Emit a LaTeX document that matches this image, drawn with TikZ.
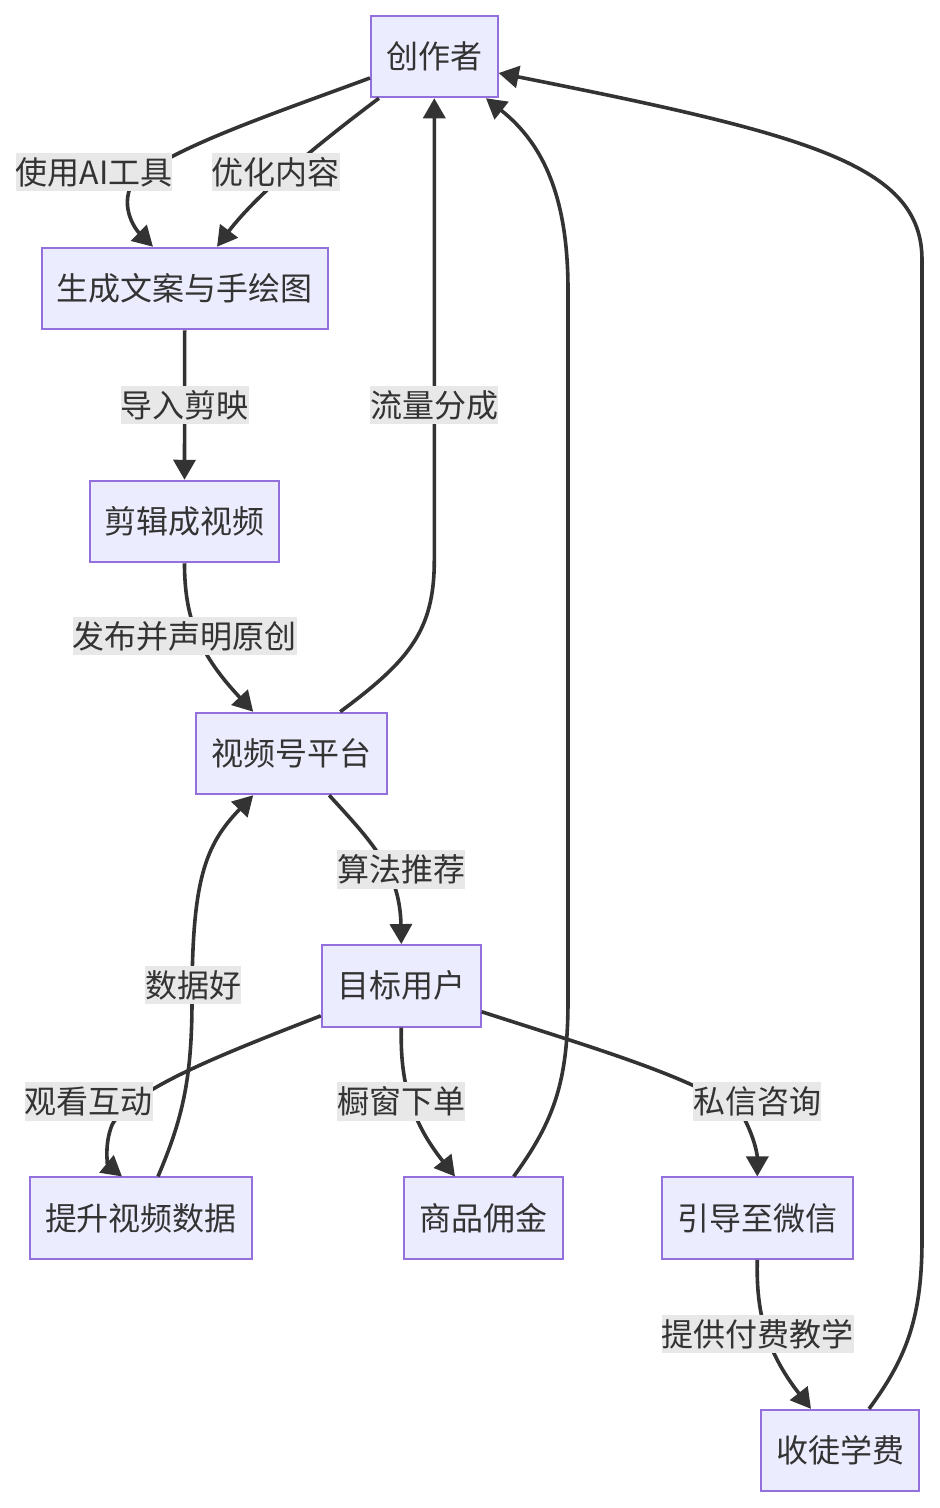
\documentclass[tikz,border=0pt]{standalone}
\usepackage{fontspec}
\setmainfont{Noto Sans CJK SC}
\usetikzlibrary{arrows.meta,calc}
\definecolor{nodefill}{HTML}{ECECFF}
\definecolor{nodeline}{HTML}{9370DB}
\definecolor{edgecol}{HTML}{333333}
\definecolor{lblbg}{HTML}{E8E8E8}
\begin{document}
\begin{tikzpicture}[x=1pt,y=-1pt,
  box/.style={draw=nodeline, line width=2pt, fill=nodefill, text=edgecol,
    font=\fontsize{32pt}{38pt}\selectfont, inner sep=0pt, minimum height=81.5pt,
    text height=26.2pt, text depth=1.9pt},
  lbl/.style={fill=lblbg, text=edgecol, font=\fontsize{32pt}{38pt}\selectfont,
    inner xsep=0pt, inner ysep=5pt, text height=26.2pt, text depth=1.9pt},
  edge/.style={draw=edgecol, line width=3.6pt, -{Triangle[length=20pt,width=22pt]}}]
\fill[white] (0,0) rectangle (940,1508);
\useasboundingbox (0,0) rectangle (940,1508);

% nodes
\node[box, minimum width=126.7pt] (cr) at (434.3,56.5) {创作者};
\node[box, minimum width=286pt] (g) at (184.7,288.5) {生成文案与手绘图};
\node[box, minimum width=189pt] (sk) at (184.5,521.5) {剪辑成视频};
\node[box, minimum width=191pt] (vp) at (291.2,753.5) {视频号平台};
\node[box, minimum width=159pt] (mo) at (401.3,985.8) {目标用户};
\node[box, minimum width=222.7pt] (ts) at (141,1218.2) {提升视频数据};
\node[box, minimum width=158.7pt] (sp) at (483.7,1218.2) {商品佣金};
\node[box, minimum width=190.7pt] (yd) at (757.3,1218.2) {引导至微信};
\node[box, minimum width=158.6pt] (sx) at (840,1450.6) {收徒学费};

% edges
\draw[edge] ($(cr.west)+(0,21.5)$) .. controls (270,115) and (150,155) .. (130,188)
  .. controls (121,212) and (138,232) .. ($(g.north)+(-31.7,0)$);
\draw[edge] ($(cr.south west)+(9,0)$) .. controls (330,135) and (260,190) .. ($(g.north)+(32.3,0)$);
\draw[edge] (g.south) -- (sk.north);
\draw[edge] (sk.south) .. controls (184.5,620) and (200,655) .. ($(vp.north)+(-38,0)$);
\draw[edge] ($(vp.north)+(49,0)$) .. controls (410,660) and (434.3,630) .. (434.3,560) -- (cr.south);
\draw[edge] ($(vp.south)+(38,0)$) .. controls (370,840) and (400,870) .. (mo.north);
\draw[edge] ($(mo.west)+(0,30)$) .. controls (220,1055) and (130,1090) .. (112,1125)
  .. controls (104,1145) and (108,1165) .. ($(ts.north)+(-19,0)$);
\draw[edge] ($(ts.north)+(17,0)$) .. controls (182,1120) and (192,1080) .. (192,1000)
  .. controls (192,880) and (205,845) .. ($(vp.south)+(-38,0)$);
\draw[edge] (mo.south) .. controls (400,1080) and (410,1120) .. ($(sp.north)+(-28.7,0)$);
\draw[edge] ($(sp.north)+(30,0)$) .. controls (555,1120) and (568,1080) .. (568,1000) -- (568,290)
  .. controls (568,200) and (545,145) .. ($(cr.south east)+(-12.7,0)$);
\draw[edge] ($(mo.east)+(0,26)$) .. controls (600,1050) and (720,1085) .. (745,1120)
  .. controls (755,1140) and (757.3,1155) .. (yd.north);
\draw[edge] (yd.south) .. controls (756,1310) and (765,1350) .. ($(sx.north)+(-29,0)$);
\draw[edge] ($(sx.north)+(29,0)$) .. controls (905,1360) and (922,1320) .. (922,1240) -- (922,260)
  .. controls (922,165) and (810,135) .. ($(cr.east)+(0,16.5)$);

% edge labels
\node[lbl] (l1) at (94,172) {使用AI工具};
\node[lbl] (l2) at (275.5,172) {优化内容};
\node[lbl] (l3) at (184.5,405) {导入剪映};
\node[lbl] (l4) at (184.5,636) {发布并声明原创};
\node[lbl] (l5) at (434.3,405) {流量分成};
\node[lbl] (l6) at (401,869.5) {算法推荐};
\node[lbl] (l7) at (193,985) {数据好};
\node[lbl] (l8) at (88.5,1101.5) {观看互动};
\node[lbl] (l9) at (401,1101.5) {橱窗下单};
\node[lbl] (l10) at (757,1101.5) {私信咨询};
\node[lbl] (l11) at (757.5,1334) {提供付费教学};
\end{tikzpicture}
\end{document}
